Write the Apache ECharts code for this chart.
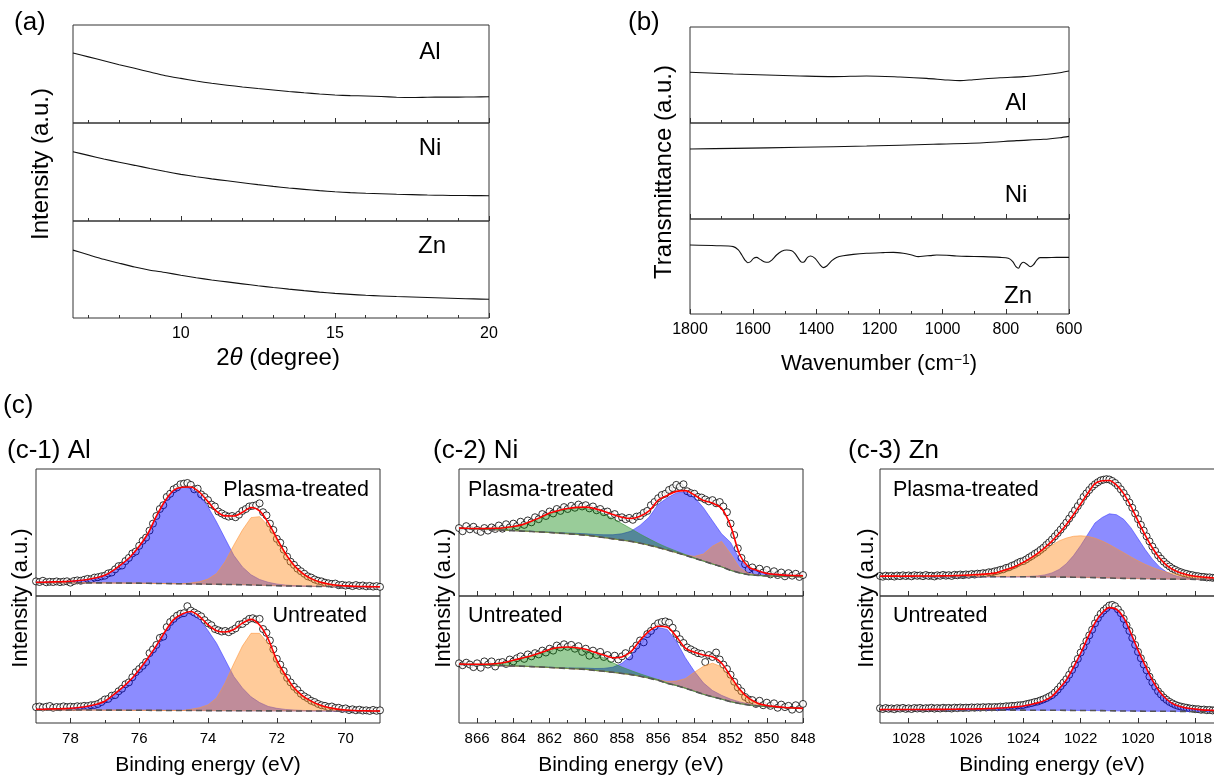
<!DOCTYPE html>
<html><head><meta charset="utf-8">
<script src="https://cdn.jsdelivr.net/npm/echarts@6/dist/echarts.min.js"></script>
<style>html,body{margin:0;padding:0;background:#fff}#c{width:1214px;height:776px}</style>
</head><body><div id="c"></div><script>
// ---------------- (a) XRD ----------------
const aTheta = {start: 6.5, end: 20, step: 0.5};
const aAl = [71.5,67.5,63.5,59.5,55.8,52.0,48.3,45.5,42.8,40.5,38.6,36.8,35.2,33.7,32.2,30.8,29.6,28.6,27.9,27.6,27.0,26.3,26.0,26.3,26.5,26.4,26.6,26.8];
const aNi = [70.7,67,63.3,60,56.8,53.6,50.5,47.6,45.2,43,41,39,37.1,35.3,33.7,32.3,31,29.8,29,28.3,27.8,27.3,26.9,26.5,26.2,26,25.9,25.8];
const aZn = [70,65.2,60.5,56.5,52.6,49.3,46.9,44,41.5,39.2,37.2,35.2,33.3,31.5,29.8,28.2,26.7,25.4,24.4,23.4,22.7,22.1,21.6,21.1,20.6,20.1,19.7,19.3];
const aMajor = [10,15,20];
const aMinor = [7,8,9,11,12,13,14,16,17,18,19];

// ---------------- (b) FTIR ----------------
const bAlX = [1800,1663,1557,1452,1346,1241,1135,1051,987,945,903,818,745,681,629,600];
const bAlY = [52.8,51,50,49,48.3,49,47.9,46.5,44.8,44.1,45.1,47.2,48.3,50.3,52.4,54.2];
const bNiX = [1800,1663,1452,1241,1030,871,766,681,629,600];
const bNiY = [72.9,73.6,74.7,76,77.8,79.5,81.6,83,84.7,86.1];
const bZnX = [1800,1716,1663,1647,1636,1626,1617,1608,1599,1589,1578,1563,1552,1541,1526,1510,1494,1478,1468,1457,1446,1439,1428,1418,1404,1388,1378,1367,1351,1336,1315,1283,1241,1188,1156,1125,1098,1077,1056,1040,1019,987,956,924,871,818,792,778,768,760,753,745,734,723,713,702,692,671,639,600];
const bZnY = [72.6,71.9,70.9,67.4,62.1,56.8,54.0,55.1,58.6,59.6,57.5,54.7,54.4,56.8,62.1,66.0,67.4,66.7,63.9,58.6,54.4,54.7,59.6,61.1,58.6,51.6,48.8,50.5,56.1,59.6,61.4,62.8,63.9,64.6,64.9,63.9,62.1,60.4,61.1,61.4,62.1,61.8,61.1,60.7,60.4,59.6,58.6,55.1,49.8,48.1,52.3,54.4,52.6,49.8,51.6,56.8,59.3,59.3,59.6,59.6];
const bMajor = [1800,1600,1400,1200,1000,800,600];
const bMinor = [1700,1500,1300,1100,900,700];

// ---------------- (c-1) Al 2p ----------------
const c1Grid = {start: 79, end: 69, step: -0.25};
const c1DotGrid = {start: 79, end: 69, step: -0.1};
const c1TopBase = [10.5,10.5,10.5,10.4,10.4,10.4,10.3,10.3,10.3,10.2,10.2,10.1,10.1,10.0,9.9,9.8,9.7,9.6,9.5,9.4,9.3,9.2,9.1,9.0,8.9,8.7,8.5,8.3,8.1,7.9,7.8,7.7,7.6,7.5,7.5,7.4,7.4,7.3,7.3,7.3,7.3];
const c1TopBlue = [0.3,0.4,0.6,0.9,1.2,1.8,2.7,4,6,10,15,21,29,39,53,65,73.5,76,75.5,70.5,61,49,36,23,14,8,4.5,2.5,1.3,0.7,0.4,0.2,0.1,0,0,0,0,0,0,0,0];
const c1TopOrange = [0,0,0,0,0,0,0,0,0,0,0,0,0,0,0,0,0,0,0.8,1.8,4,8.5,18,31,43,53,54,47,36,25,16,10,6,3.5,2,1.1,0.6,0.3,0.15,0.05,0];
const c1TopDots = [11.5,11.0,12.0,10.8,11.2,11.0,11.5,10.9,11.3,11.6,
 10.5,11.8,12.3,12.0,12.8,13.5,13.2,14.5,14.8,15.5,
 16.0,17.8,18.5,21.0,23.5,24.0,27.5,30.0,33.5,35.0,
 39.5,43.5,46.0,51.5,57.0,63.0,68.5,71.5,78.0,80.5,
 84.0,85.5,88.0,88.5,89.0,87.5,84.0,84.5,80.0,78.0,
 75.5,72.0,70.5,66.5,65.0,63.5,62.5,63.0,62.0,64.0,
 67.0,68.5,70.5,71.0,71.5,73.0,66.0,63.5,57.0,52.0,
 45.0,42.0,36.5,31.0,27.0,24.5,21.5,19.5,17.5,15.5,
 14.5,13.0,12.0,11.5,10.5,10.0,9.5,9.8,8.5,8.8,
 8.2,8.5,7.8,8.6,7.9,8.3,7.6,8.0,7.4,7.8,
 7.2];
const c1BotBase = [10.3,10.3,10.3,10.3,10.2,10.2,10.2,10.2,10.1,10.1,10.1,10.0,10.0,10.0,9.95,9.9,9.9,9.85,9.8,9.8,9.75,9.7,9.7,9.65,9.6,9.6,9.6,9.55,9.55,9.5,9.5,9.5,9.5,9.5,9.5,9.45,9.45,9.45,9.4,9.4,9.4];
const c1BotBlue = [0.5,0.6,0.8,1.0,1.4,2.0,3.0,4.5,7,12,17.5,24,32,41,51,62,71.5,76,77,72,63,53,40,27,18,11,6.5,3.5,2,1.2,0.7,0.4,0.2,0.1,0,0,0,0,0,0,0];
const c1BotOrange = [0,0,0,0,0,0,0,0,0,0,0,0,0,0,0,0,0,0,1,2.2,4.5,10,22,37,51,61,61,53,38,27,17.5,11.5,7.5,4.5,2.7,1.5,0.8,0.4,0.2,0.1,0];
const c1BotDots = [12.5,13.0,12.2,12.8,13.4,12.0,12.6,12.4,13.1,12.5,
 12.9,12.6,13.2,13.0,13.5,13.3,14.0,14.2,15.0,16.5,
 18.5,19.0,21.5,22.0,25.0,27.0,30.5,32.0,36.0,40.0,
 42.5,45.0,48.0,55.0,58.0,61.5,67.0,68.0,75.5,79.5,
 82.0,84.5,86.0,86.5,92.0,88.5,87.0,85.5,84.0,81.0,
 78.5,77.0,74.0,73.0,72.0,72.5,71.5,73.0,74.5,77.5,
 78.0,80.0,82.0,82.5,81.5,82.0,74.0,71.0,65.0,58.0,
 50.5,46.0,41.0,35.5,32.0,28.5,26.0,23.0,21.0,19.5,
 17.5,16.5,15.0,14.0,13.5,12.5,13.0,11.8,12.0,11.0,
 11.5,10.2,10.8,10.0,10.5,9.8,10.0,9.5,10.3,9.6,
 10.0];
const c1Major = [78,76,74,72,70];
const c1Minor = [77,75,73,71];

// ---------------- (c-2) Ni 2p ----------------
const c2Grid = {start: 867, end: 848, step: -0.5};
const c2DotGrid = {start: 867, end: 848, step: -0.2};
const c2TopBase = [53.3,53.0,52.7,52.4,52.1,51.8,51.5,51.1,50.8,50.4,50.0,49.5,49.0,48.5,47.9,47.0,46.0,45.0,44.0,43.0,41.6,40.0,38.2,36.2,34.2,32.0,29.7,27.5,25.2,23.0,20.2,18.2,16.8,16.2,15.8,15.6,15.4,15.3,15.2];
const c2TopGreen = [0.2,0.3,0.5,0.8,1.2,2,3.2,5,8,11.3,15,17.5,19.3,20.5,21,20.3,18.5,16,13,10,7.2,5,3.2,2,1.2,0.7,0.35,0.15,0.05,0,0,0,0,0,0,0,0,0,0];
const c2TopBlue = [0,0,0,0,0,0,0,0.1,0.15,0.2,0.3,0.4,0.6,0.8,1.1,1.5,2.2,3.2,5,8,14,22,34,41,47,50,48,42,34,26,22,10.5,5,3.5,2,1.4,1,0.8,0.7];
const c2TopOrange = [0,0,0,0,0,0,0,0,0,0,0,0,0,0,0,0,0,0,0,0,0,0,0,0,0,0.3,1.5,5.5,14,20,13,4,1,0.3,0,0,0,0,0];
const c2TopDots = [53.5,51.0,55.0,52.5,54.5,52.0,50.5,53.5,51.5,54.0,52.8,55.5,53.0,56.5,54.0,57.0,55.0,58.5,56.0,59.5,58.0,
 62.0,60.5,64.5,63.0,66.5,65.0,68.5,67.0,70.0,68.5,71.0,69.5,72.0,70.5,71.5,69.0,70.5,67.5,68.5,66.0,66.5,63.5,64.5,61.5,62.0,
 60.5,61.5,60.0,62.5,63.0,65.5,67.0,71.5,74.0,77.0,79.5,80.5,83.5,85.0,87.5,86.0,88.0,82.5,81.0,80.5,78.0,77.5,76.0,74.5,75.5,
 73.0,74.0,70.5,66.0,57.0,48.0,37.5,30.0,25.0,21.0,22.5,19.0,21.5,18.5,20.5,17.0,19.5,16.5,18.5,15.5,18.0,16.0,17.5,15.0,16.5];
const c2BotBase = [46.2,46.0,45.8,45.5,45.3,45.1,44.9,44.7,44.4,44.1,43.7,43.3,42.9,42.6,42.2,41.4,40.7,39.9,39.0,38.1,36.8,35.3,33.6,31.2,29.5,27.4,25.0,22.6,20.6,18.8,16.8,15.3,14.2,13.4,12.9,12.5,12.1,11.8,11.5];
const c2BotGreen = [0.2,0.3,0.5,0.8,1.3,2.5,4.5,6.5,8.5,11,14,15.8,16.5,16,14.8,12.8,10.5,7.5,5,3.2,1.9,1.1,0.6,0.35,0.2,0.1,0.05,0,0,0,0,0,0,0,0,0,0,0,0];
const c2BotBlue = [0,0,0,0,0,0,0,0,0.1,0.15,0.2,0.3,0.45,0.7,1,1.5,2.3,4,8,15,26.5,36,41.5,42.5,35,24,15.7,9,5,3,2,1.3,0.8,0.5,0.3,0.2,0.1,0.05,0];
const c2BotOrange = [0,0,0,0,0,0,0,0,0,0,0,0,0,0,0,0,0,0,0,0,0,0,0.5,1.5,3.5,7.5,15,22,26.5,25.5,18,10,4.5,1.7,0.6,0.2,0,0,0];
const c2BotDots = [47.0,45.5,47.5,46.0,44.0,47.0,43.5,48.5,46.0,48.5,44.5,47.5,48.0,46.5,50.0,48.5,51.0,52.5,50.5,54.0,52.5,
 55.0,54.0,57.0,55.5,58.5,57.0,61.0,59.5,62.0,60.0,61.5,58.5,60.5,56.0,58.5,53.0,57.0,53.5,56.0,52.0,53.5,50.5,53.0,50.0,52.5,
 55.0,52.5,58.0,61.0,65.0,63.5,70.0,72.5,76.0,78.5,79.5,80.0,79.0,75.0,70.0,66.0,63.0,59.5,58.0,56.5,55.0,54.5,48.0,53.5,52.0,
 55.5,50.0,46.0,42.5,38.0,32.5,28.0,25.0,20.5,18.5,18.0,15.0,17.5,14.0,16.0,13.5,15.5,12.0,14.5,12.5,13.5,10.5,14.0,11.0,15.0];
const c2Major = [866,864,862,860,858,856,854,852,850,848];
const c2Minor = [865,863,861,859,857,855,853,851,849];

// ---------------- (c-3) Zn 2p ----------------
const c3Grid = {start: 1029, end: 1017, step: -0.25};
const c3DotGrid = {start: 1029, end: 1017, step: -0.1};
const c3TopBase = [15.4,15.4,15.4,15.3,15.3,15.3,15.3,15.2,15.2,15.2,15.2,15.2,15.2,15.2,15.2,15.2,15.2,15.2,15.1,15.1,15.1,15.1,15.0,15.0,15.0,14.9,14.9,14.8,14.7,14.6,14.5,14.3,14.2,14.0,13.9,13.8,13.7,13.6,13.5,13.4,13.3,13.3,13.2,13.2,13.1,13.1,13.1,13.0,13.0];
const c3TopBlue = [0,0,0,0,0,0,0,0,0,0,0,0,0,0,0,0,0,0,0,0.1,0.2,0.4,0.8,1.6,3.2,6,10.5,17,25,34,43,47.5,50.5,50,46.5,40,31.5,23,15.5,9.5,5.5,3,1.6,0.8,0.4,0.2,0.1,0.05,0];
const c3TopOrange = [0.2,0.25,0.3,0.3,0.35,0.4,0.45,0.5,0.6,0.7,0.8,1.0,1.2,1.5,1.8,2.2,2.8,4.5,6.3,8.5,11.2,14.3,17.8,21.5,25,28.5,30.7,32.2,32.7,32.3,31,29,26.3,23.3,20.2,17,14,11.3,9,7,5.4,4.2,3.3,2.6,2,1.6,1.3,1,0.8];
const c3TopDots = [15.8,15.2,16.0,15.5,15.9,15.3,16.1,15.6,16.3,15.7,
 16.2,15.5,16.4,15.9,16.2,15.6,16.5,15.8,16.0,15.4,
 16.3,15.9,16.6,16.0,16.4,15.8,16.7,16.3,16.9,16.4,
 17.0,16.7,17.3,16.9,17.6,17.4,18.0,17.8,18.7,18.6,
 19.4,19.8,20.6,21.0,22.1,22.6,23.8,24.6,25.9,27.0,
 27.5,28.8,30.3,31.6,33.2,34.5,36.3,38.0,40.2,42.2,
 44.5,47.0,49.5,52.2,55.0,57.8,61.0,64.2,67.5,70.8,
 74.0,78.0,80.8,83.5,86.0,88.0,89.6,91.0,91.6,92.0,
 91.7,90.6,89.0,86.8,84.0,81.0,77.5,73.6,69.5,65.0,
 60.5,56.0,51.5,47.0,43.0,39.0,35.5,32.0,29.4,27.0,
 25.0,23.3,21.7,20.6,19.5,18.7,17.9,17.4,16.7,16.4,
 15.8,15.6,15.1,15.0,14.6,14.7,14.3,14.4,14.0,14.2,
 13.9];
const c3BotBase = [10.3,10.3,10.3,10.3,10.3,10.25,10.25,10.25,10.2,10.2,10.2,10.2,10.2,10.15,10.15,10.15,10.15,10.1,10.1,10.1,10.1,10.05,10.05,10.0,10.0,10.0,9.95,9.9,9.9,9.85,9.8,9.75,9.65,9.55,9.45,9.4,9.35,9.3,9.3,9.25,9.2,9.2,9.15,9.1,9.1,9.05,9.05,9.0,9.0];
const c3BotBlue = [0.25,0.3,0.3,0.3,0.35,0.4,0.4,0.45,0.5,0.55,0.6,0.7,0.8,0.9,1.0,1.2,1.4,1.7,2.1,2.6,3.3,4.5,5.8,7.8,11,17,24,34,45,57.5,69,77,81.2,80,73.5,61.5,48,36,24.5,15.5,9.5,5.5,3.7,2.5,1.8,1.3,1.0,0.8,0.6];
const c3BotDots = [11.6,11.0,11.8,11.2,11.5,10.9,11.7,11.3,11.9,11.1,
 11.6,11.0,11.8,11.4,11.9,11.2,11.7,11.5,12.0,11.3,
 11.8,11.4,12.0,11.6,11.9,11.4,12.1,11.7,12.2,11.8,
 12.1,11.9,12.3,12.0,12.4,12.1,12.5,12.2,12.6,12.3,
 12.6,12.4,12.9,12.7,13.2,13.1,13.5,13.4,13.9,14.0,
 14.2,14.8,15.3,15.8,16.5,16.9,17.8,18.6,19.6,20.8,
 22.0,24.0,26.3,29.0,31.8,34.5,38.0,41.8,46.0,50.5,
 55.5,60.0,64.5,69.0,73.5,78.5,82.5,86.0,88.5,90.5,
 92.5,93.0,92.0,89.5,86.5,82.0,77.0,72.5,67.0,61.5,
 56.0,51.0,46.0,41.5,36.5,32.0,28.5,25.0,22.5,20.0,
 18.2,16.6,15.4,14.3,13.5,12.9,12.4,12.0,11.5,11.3,
 10.9,10.9,10.4,10.6,10.1,10.3,9.9,10.2,9.8,10.0,
 9.7];
const c3Major = [1028,1026,1024,1022,1020,1018];
const c3Minor = [1027,1025,1023,1021,1019];

// ---------------- helpers ----------------
const FONT = '"Liberation Sans", Arial, Helvetica, sans-serif';
function axisGrid(g){ const out=[]; const n=Math.round((g.end-g.start)/g.step); for(let i=0;i<=n;i++) out.push(+(g.start+i*g.step).toFixed(3)); return out; }
function pairs(xs, ys){ return xs.map((x,i)=>[x, ys[i]]); }

const gridBoxes = [
  [73,25,416,98],[73,123,416,98],[73,221,416,97],
  [690,27,379,96],[690,123,379,96],[690,219,379,95],
  [36,469,344,127],[36,596,344,127],
  [459,469,344,127],[459,596,344,127],
  [880,469,344,127],[880,596,344,127]
];
const grid = gridBoxes.map(b=>({left:b[0], top:b[1], width:b[2], height:b[3], show:true,
  borderColor:'#333', borderWidth:1, backgroundColor:'rgba(0,0,0,0)', containLabel:false, outerBoundsMode:'none'}));

const xAxis = [], yAxis = [];
function addAxes(gi, min, max, inverse, major, minor, showLabels, fs){
  xAxis.push({type:'value', gridIndex:gi, min, max, inverse, position:'bottom',
    axisLine:{show:false}, splitLine:{show:false},
    axisTick:{show:true, inside:true, length:5, customValues:major, lineStyle:{color:'#333', width:1}},
    axisLabel:{show:showLabels, customValues:major, color:'#000', fontSize:fs, fontFamily:FONT, margin:8,
      hideOverlap:false, formatter:(v)=>String(v)}});
  xAxis.push({type:'value', gridIndex:gi, min, max, inverse, position:'bottom',
    axisLine:{show:false}, splitLine:{show:false},
    axisTick:{show:true, inside:true, length:3, customValues:minor, lineStyle:{color:'#333', width:1}},
    axisLabel:{show:false}});
  yAxis.push({type:'value', gridIndex:gi, min:0, max:100, show:false});
}
for (let i=0;i<3;i++) addAxes(i, 6.5, 20, false, aMajor, aMinor, i===2, 16);
for (let i=3;i<6;i++) addAxes(i, 600, 1800, true, bMajor, bMinor, i===5, 16);
addAxes(6, 69, 79, true, c1Major, c1Minor, false, 15);
addAxes(7, 69, 79, true, c1Major, c1Minor, true, 15);
addAxes(8, 848, 867, true, c2Major, c2Minor, false, 15);
addAxes(9, 848, 867, true, c2Major, c2Minor, true, 15);
addAxes(10, 1017, 1029, true, c3Major, c3Minor, false, 15);
addAxes(11, 1017, 1029, true, c3Major, c3Minor, true, 15);

const series = [];
function simpleLine(gi, xs, ys, smooth){
  series.push({type:'line', xAxisIndex:gi*2, yAxisIndex:gi, data:pairs(xs,ys), symbol:'none', smooth:smooth||0,
    lineStyle:{color:'#111', width:1.1}, silent:true});
}
const aX = axisGrid(aTheta);
simpleLine(0, aX, aAl, 0.2); simpleLine(1, aX, aNi, 0.2); simpleLine(2, aX, aZn, 0.2);
simpleLine(3, bAlX, bAlY, 0.3); simpleLine(4, bNiX, bNiY, 0.3); simpleLine(5, bZnX, bZnY, 0.3);

const BLUE = {fill:'rgba(0,0,255,0.45)', edge:'rgba(60,60,255,0.6)'};
const ORANGE = {fill:'rgba(255,140,30,0.45)', edge:'rgba(255,150,60,0.6)'};
const GREEN = {fill:'rgba(0,128,0,0.4)', edge:'rgba(60,150,60,0.6)'};

// fitted component: filled between the background and background+component
function componentArea(gi, E, base, vals, style){
  const data = E.map((e,i)=>[e, base[i], base[i]+vals[i]]);
  series.push({type:'custom', coordinateSystem:'cartesian2d', xAxisIndex:gi*2, yAxisIndex:gi, silent:true, z:3,
    encode:{x:0, y:[1,2]}, data, clip:true,
    renderItem:(params, api)=>{
      if (params.dataIndex !== 0) return null;
      const top = data.map(d=>api.coord([d[0], d[2]]));
      const bot = data.map(d=>api.coord([d[0], d[1]])).reverse();
      return {type:'polygon', shape:{points: top.concat(bot)}, style:{fill:style.fill, stroke:style.edge, lineWidth:1}};
    }});
}

function xps(gi, gDef, dDef, dots, base, comps){
  const E = axisGrid(gDef), Ed = axisGrid(dDef);
  const xi = gi*2, yi = gi;
  series.push({type:'scatter', xAxisIndex:xi, yAxisIndex:yi, data:pairs(Ed,dots), symbol:'circle', symbolSize:7,
    itemStyle:{color:'#fff', borderColor:'#000', borderWidth:1}, silent:true, z:2});
  comps.forEach(c=>componentArea(gi, E, base, c.vals, c.style));
  series.push({type:'line', xAxisIndex:xi, yAxisIndex:yi, data:pairs(E,base), symbol:'none',
    lineStyle:{color:'#555', width:1.6, type:[6,4]}, silent:true, z:4});
  const env = base.map((b,i)=>comps.reduce((s,c)=>s+c.vals[i], b));
  series.push({type:'line', xAxisIndex:xi, yAxisIndex:yi, data:pairs(E,env), symbol:'none', smooth:0.3,
    lineStyle:{color:'#ff0000', width:1.6}, silent:true, z:5});
}
xps(6, c1Grid, c1DotGrid, c1TopDots, c1TopBase, [{vals:c1TopBlue, style:BLUE},{vals:c1TopOrange, style:ORANGE}]);
xps(7, c1Grid, c1DotGrid, c1BotDots, c1BotBase, [{vals:c1BotBlue, style:BLUE},{vals:c1BotOrange, style:ORANGE}]);
xps(8, c2Grid, c2DotGrid, c2TopDots, c2TopBase, [{vals:c2TopBlue, style:BLUE},{vals:c2TopOrange, style:ORANGE},{vals:c2TopGreen, style:GREEN}]);
xps(9, c2Grid, c2DotGrid, c2BotDots, c2BotBase, [{vals:c2BotBlue, style:BLUE},{vals:c2BotOrange, style:ORANGE},{vals:c2BotGreen, style:GREEN}]);
xps(10, c3Grid, c3DotGrid, c3TopDots, c3TopBase, [{vals:c3TopBlue, style:BLUE},{vals:c3TopOrange, style:ORANGE}]);
xps(11, c3Grid, c3DotGrid, c3BotDots, c3BotBase, [{vals:c3BotBlue, style:BLUE}]);

function txt(x, y, text, fs, o){
  o = o || {};
  return {type:'text', x, y, rotation:o.rot||0, z:100, silent:true,
    style:{text, fontSize:fs, fontFamily:FONT, fill:'#000', align:o.align||'center', verticalAlign:'middle', rich:o.rich}};
}
const graphic = [
  txt(14, 23, '(a)', 26, {align:'left'}),
  txt(628, 23, '(b)', 26, {align:'left'}),
  txt(3, 406, '(c)', 26, {align:'left'}),
  txt(7, 451, '(c-1) Al', 26, {align:'left'}),
  txt(433, 451, '(c-2) Ni', 26, {align:'left'}),
  txt(848, 451, '(c-3) Zn', 26, {align:'left'}),
  txt(430, 52, 'Al', 24), txt(430, 148, 'Ni', 24), txt(432, 246, 'Zn', 24),
  txt(1016, 103, 'Al', 24), txt(1016, 195, 'Ni', 24), txt(1018, 296, 'Zn', 24),
  txt(41, 164, 'Intensity (a.u.)', 24, {rot:Math.PI/2}),
  txt(664, 172, 'Transmittance (a.u.)', 24, {rot:Math.PI/2}),
  txt(278, 358, '2{i|θ} (degree)', 24, {rich:{i:{fontStyle:'italic', fontSize:24, fontFamily:FONT}}}),
  txt(879, 364, 'Wavenumber (cm{s|−1})', 22, {rich:{s:{fontSize:14, fontFamily:FONT, verticalAlign:'top', lineHeight:14}}}),
  txt(21, 598, 'Intensity (a.u.)', 22, {rot:Math.PI/2}),
  txt(444, 598, 'Intensity (a.u.)', 22, {rot:Math.PI/2}),
  txt(867, 598, 'Intensity (a.u.)', 22, {rot:Math.PI/2}),
  txt(208, 765, 'Binding energy (eV)', 21),
  txt(631, 765, 'Binding energy (eV)', 21),
  txt(1052, 765, 'Binding energy (eV)', 21),
  txt(369, 490, 'Plasma-treated', 21.5, {align:'right'}),
  txt(367, 616, 'Untreated', 21.5, {align:'right'}),
  txt(468, 490, 'Plasma-treated', 21.5, {align:'left'}),
  txt(468, 616, 'Untreated', 21.5, {align:'left'}),
  txt(893, 490, 'Plasma-treated', 21.5, {align:'left'}),
  txt(893, 616, 'Untreated', 21.5, {align:'left'})
];

const chart = echarts.init(document.getElementById('c'), null, {renderer:'canvas'});
chart.setOption({animation:false, backgroundColor:'#fff', textStyle:{fontFamily:FONT},
  grid, xAxis, yAxis, series, graphic});
</script></body></html>
